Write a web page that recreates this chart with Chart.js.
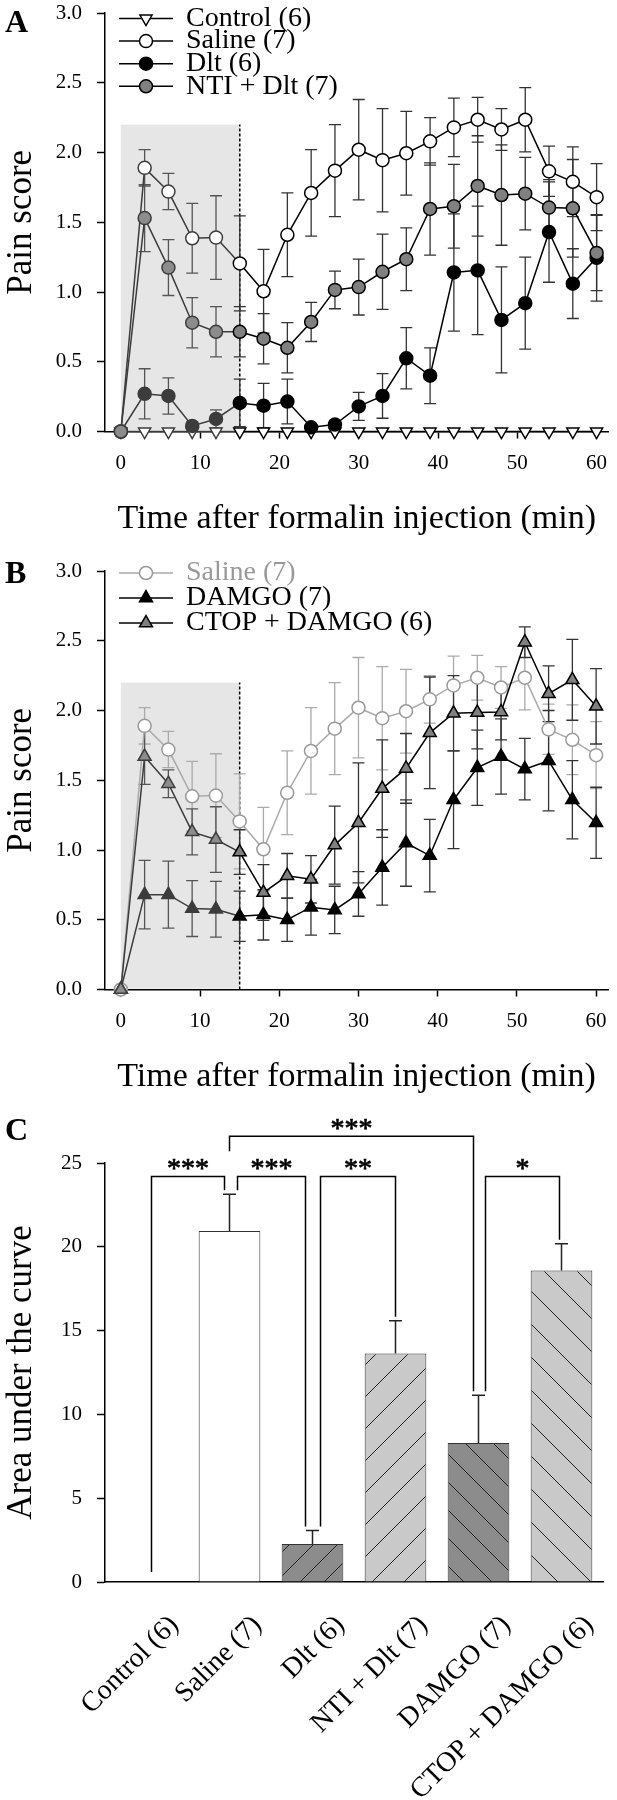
<!DOCTYPE html>
<html>
<head>
<meta charset="utf-8">
<script src="https://cdn.jsdelivr.net/npm/chart.js@4.4.1/dist/chart.umd.min.js"></script>
<style>
  html, body { margin: 0; padding: 0; background: #fff; }
  #page { position: relative; width: 617px; height: 1800px; overflow: hidden; }
  canvas { position: absolute; left: 0; }
  .panel { position: absolute; font-family: "Liberation Serif", "Times New Roman", serif;
           font-weight: bold; font-size: 32px; line-height: 32px; }
</style>
</head>
<body>
<div id="page">
  <canvas id="chartA" width="617" height="545" style="top:0px"></canvas>
  <canvas id="chartB" width="617" height="560" style="top:540px"></canvas>
  <canvas id="chartC" width="617" height="710" style="top:1090px"></canvas>
  <div class="panel" style="left:5px; top:5px">A</div>
  <div class="panel" style="left:5px; top:556px">B</div>
  <div class="panel" style="left:5px; top:1113px">C</div>
</div>
<script>
const FONT = '"Liberation Serif", "Times New Roman", Times, serif';
Chart.defaults.font.family = FONT;
Chart.defaults.color = '#000';

// time axis (min after formalin) and ticks
const timeMin = [0, 3, 6, 9, 12, 15, 18, 21, 24, 27, 30, 33, 36, 39, 42, 45, 48, 51, 54, 57, 60];
const timeTicks = [0, 10, 20, 30, 40, 50, 60];
const painTicks = [0, 0.5, 1, 1.5, 2, 2.5, 3];
const shadeEnd = 15;   // early phase, grey box
const shadeTop = 2.2;

// panel A
const controlMean = [0, 0, 0, 0, 0, 0, 0, 0, 0, 0, 0, 0, 0, 0, 0, 0, 0, 0, 0, 0, 0];
const controlSem  = [0, 0, 0, 0, 0, 0, 0, 0, 0, 0, 0, 0, 0, 0, 0, 0, 0, 0, 0, 0, 0];
const salineMean = [0, 1.89, 1.72, 1.385, 1.39, 1.205, 1.005, 1.41, 1.71, 1.87, 2.02, 1.945, 1.995, 2.08, 2.18, 2.235, 2.165, 2.235, 1.865, 1.79, 1.68];
const salineSem  = [0, 0.13, 0.13, 0.25, 0.30, 0.34, 0.30, 0.30, 0.31, 0.33, 0.36, 0.37, 0.30, 0.17, 0.21, 0.16, 0.15, 0.23, 0.18, 0.25, 0.24];
const dltMean = [0, 0.27, 0.255, 0.04, 0.09, 0.205, 0.185, 0.215, 0.03, 0.05, 0.18, 0.255, 0.525, 0.40, 1.14, 1.155, 0.80, 0.92, 1.43, 1.06, 1.245];
const dltSem  = [0, 0.18, 0.13, 0.03, 0.065, 0.17, 0.16, 0.16, 0.02, 0.03, 0.10, 0.16, 0.22, 0.20, 0.42, 0.46, 0.38, 0.33, 0.36, 0.25, 0.31];
const ntiDltMean = [0, 1.53, 1.175, 0.78, 0.715, 0.715, 0.665, 0.60, 0.785, 1.015, 1.035, 1.145, 1.235, 1.595, 1.615, 1.76, 1.695, 1.705, 1.605, 1.60, 1.28];
const ntiDltSem  = [0, 0.24, 0.20, 0.18, 0.18, 0.18, 0.18, 0.18, 0.14, 0.135, 0.20, 0.27, 0.225, 0.33, 0.30, 0.36, 0.36, 0.26, 0.20, 0.35, 0.27];

// panel B
const damgoMean = [0, 0.68, 0.68, 0.58, 0.575, 0.525, 0.535, 0.50, 0.59, 0.57, 0.685, 0.875, 1.05, 0.96, 1.36, 1.59, 1.67, 1.58, 1.64, 1.36, 1.195];
const damgoSem  = [0, 0.245, 0.24, 0.20, 0.20, 0.18, 0.18, 0.155, 0.20, 0.17, 0.16, 0.27, 0.31, 0.26, 0.35, 0.27, 0.27, 0.22, 0.36, 0.28, 0.255];
const ctopDamgoMean = [0, 1.67, 1.475, 1.13, 1.075, 0.985, 0.695, 0.815, 0.79, 1.035, 1.195, 1.44, 1.585, 1.84, 1.98, 1.985, 1.99, 2.49, 2.12, 2.22, 2.03];
const ctopDamgoSem  = [0, 0.20, 0.10, 0.165, 0.235, 0.16, 0.20, 0.16, 0.17, 0.28, 0.43, 0.35, 0.25, 0.40, 0.27, 0.26, 0.20, 0.11, 0.20, 0.29, 0.27];

// panel C
const aucGroups = ['Control (6)', 'Saline (7)', 'Dlt (6)', 'NTI + Dlt (7)', 'DAMGO (7)', 'CTOP + DAMGO (6)'];
const aucMean = [0, 20.94, 2.27, 13.64, 8.29, 18.58];
const aucSem  = [0, 2.19, 0.80, 1.95, 2.86, 1.60];
const aucTicks = [0, 5, 10, 15, 20, 25];
const sigPairs = [[0, 1], [1, 2], [2, 3], [1, 4], [4, 5]];
const sigMarks = ['***', '***', '**', '***', '*'];
const sigLevel = [24.2, 24.2, 24.2, 26.6, 24.2];

// inside the grey box the strokes look a bit lighter
const SOFT = { '#000': '#3c3c3c', '#333': '#555', '#808080': '#8c8c8c' };
const soft = c => SOFT[c] || c;
const inShade = i => timeMin[i] < shadeEnd;

function drawMarker(ctx, shape, rotation, r, x, y) {
  ctx.beginPath();
  if (shape === 'triangle') {
    let a = rotation * Math.PI / 180;
    for (let k = 0; k < 3; k++) {
      const px = x + Math.sin(a) * r, py = y - Math.cos(a) * r;
      if (k) ctx.lineTo(px, py); else ctx.moveTo(px, py);
      a += 2 * Math.PI / 3;
    }
    ctx.closePath();
  } else {
    ctx.arc(x, y, r, 0, 2 * Math.PI);
  }
  ctx.fill();
  ctx.stroke();
}

function series(label, mean, sem, st) {
  return {
    label: label,
    sem: sem,
    st: st,
    order: st.order,
    data: mean.map((v, i) => ({ x: timeMin[i], y: v })),
    borderColor: st.line,
    borderWidth: 1.5,
    segment: { borderColor: c => inShade(c.p0DataIndex) ? soft(st.line) : st.line },
    pointStyle: st.shape,
    pointRotation: st.rotation || 0,
    pointRadius: st.radius,
    pointHoverRadius: st.radius,
    pointBorderWidth: 1.5,
    pointBackgroundColor: c => inShade(c.dataIndex) ? soft(st.fill) : st.fill,
    pointBorderColor: c => inShade(c.dataIndex) ? soft(st.edge) : st.edge,
    tension: 0,
    clip: false
  };
}

// grey box, dashed 15 min line and the SEM bars, under the curves
const timeDecor = {
  id: 'timeDecor',
  beforeDatasetsDraw(chart) {
    const { ctx, scales: { x, y } } = chart;
    const x0 = x.getPixelForValue(0), x1 = x.getPixelForValue(shadeEnd);
    const yb = y.getPixelForValue(0), yt = y.getPixelForValue(shadeTop);
    ctx.save();
    ctx.fillStyle = '#e6e6e6';
    ctx.fillRect(x0, yt, x1 - x0, yb - yt - 1);
    ctx.strokeStyle = '#000';
    ctx.lineWidth = 1.5;
    ctx.setLineDash([3, 2]);
    ctx.beginPath();
    ctx.moveTo(x1, yb);
    ctx.lineTo(x1, yt);
    ctx.stroke();
    ctx.setLineDash([]);
    ctx.lineWidth = 1.3;
    chart.data.datasets.forEach(ds => {
      ds.sem.forEach((s, i) => {
        if (!s) return;
        const px = x.getPixelForValue(timeMin[i]);
        const m = ds.data[i].y;
        const pt = y.getPixelForValue(m + s), pb = y.getPixelForValue(m - s);
        ctx.strokeStyle = inShade(i) ? soft(ds.st.err) : ds.st.err;
        ctx.beginPath();
        ctx.moveTo(px, pt); ctx.lineTo(px, pb);
        ctx.moveTo(px - 6, pt); ctx.lineTo(px + 6, pt);
        ctx.moveTo(px - 6, pb); ctx.lineTo(px + 6, pb);
        ctx.stroke();
      });
    });
    ctx.restore();
  }
};

const refLegend = {
  id: 'refLegend',
  afterDraw(chart, args, opts) {
    const ctx = chart.ctx;
    ctx.save();
    ctx.font = opts.size + 'px ' + FONT;
    ctx.textBaseline = 'middle';
    ctx.textAlign = 'left';
    chart.data.datasets.forEach((ds, row) => {
      const st = ds.st;
      const y = opts.top + row * opts.gap;
      ctx.strokeStyle = st.line;
      ctx.lineWidth = 1.5;
      ctx.beginPath();
      ctx.moveTo(119, y); ctx.lineTo(173, y);
      ctx.stroke();
      ctx.fillStyle = st.fill;
      ctx.strokeStyle = st.edge;
      drawMarker(ctx, st.shape, st.rotation || 0, st.radius, 146, y);
      ctx.fillStyle = st.text || '#000';
      ctx.fillText(ds.label, 186, y);
    });
    ctx.restore();
  }
};

function timeChart(id, datasets, g) {
  return new Chart(document.getElementById(id), {
    type: 'line',
    data: { datasets: datasets },
    options: {
      responsive: false,
      animation: false,
      events: [],
      layout: { padding: { top: g.top, right: 0, left: 0, bottom: 0 } },
      plugins: {
        legend: { display: false },
        tooltip: { enabled: false },
        refLegend: { top: g.legendTop, gap: g.legendGap, size: 28 }
      },
      scales: {
        x: {
          type: 'linear', min: -2, max: 61.5,
          afterBuildTicks: s => { s.ticks = timeTicks.map(v => ({ value: v })); },
          afterFit: s => { s.height = g.xHeight; s.paddingLeft = 0; s.paddingRight = 0; },
          grid: { drawOnChartArea: false, tickLength: 7, tickWidth: 1.5, tickColor: '#000' },
          border: { color: '#000', width: 1.5 },
          ticks: { font: { size: 21 }, padding: 12, maxRotation: 0, color: '#000' },
          title: { display: true, text: 'Time after formalin injection (min)', color: '#000',
                   font: { size: 34, lineHeight: 1 }, padding: { top: 0, bottom: g.titlePad } }
        },
        y: {
          min: 0, max: 3,
          afterBuildTicks: s => { s.ticks = painTicks.map(v => ({ value: v })); },
          afterFit: s => { s.width = 105; s.paddingTop = 0; s.paddingBottom = 0; },
          grid: { drawOnChartArea: false, tickLength: 8, tickWidth: 1.5, tickColor: '#000' },
          border: { color: '#000', width: 1.5 },
          ticks: { font: { size: 21 }, padding: 15, color: '#000', callback: v => v.toFixed(1) },
          title: { display: true, text: 'Pain score', color: '#000',
                   font: { size: 35, lineHeight: 1 }, padding: { top: 4, bottom: 0 } }
        }
      }
    },
    plugins: [timeDecor, refLegend]
  });
}

timeChart('chartA', [
  series('Control (6)', controlMean, controlSem,
    { shape: 'triangle', rotation: 180, radius: 7, fill: '#fff', edge: '#000', line: '#000', err: '#333', order: 3 }),
  series('Saline (7)', salineMean, salineSem,
    { shape: 'circle', radius: 6.5, fill: '#fff', edge: '#000', line: '#000', err: '#333', order: 2 }),
  series('Dlt (6)', dltMean, dltSem,
    { shape: 'circle', radius: 6.5, fill: '#000', edge: '#000', line: '#000', err: '#333', order: 1 }),
  series('NTI + Dlt (7)', ntiDltMean, ntiDltSem,
    { shape: 'circle', radius: 6.5, fill: '#808080', edge: '#000', line: '#000', err: '#333', order: 0 })
], { top: 13, xHeight: 113.5, titlePad: 9, legendTop: 18.5, legendGap: 22.6 });

timeChart('chartB', [
  series('Saline (7)', salineMean, salineSem,
    { shape: 'circle', radius: 6.5, fill: '#fff', edge: '#999', line: '#aaa', err: '#aaa', text: '#999', order: 2 }),
  series('DAMGO (7)', damgoMean, damgoSem,
    { shape: 'triangle', rotation: 0, radius: 7.5, fill: '#000', edge: '#000', line: '#000', err: '#333', order: 1 }),
  series('CTOP + DAMGO (6)', ctopDamgoMean, ctopDamgoSem,
    { shape: 'triangle', rotation: 0, radius: 7.5, fill: '#808080', edge: '#000', line: '#000', err: '#333', order: 0 })
], { top: 31, xHeight: 110.5, titlePad: 6, legendTop: 33, legendGap: 25 });

// panel C: hatched bars
const ctxC = document.getElementById('chartC').getContext('2d');
function hatch(bg, dir, gap) {
  const c = document.createElement('canvas');
  c.width = gap; c.height = gap;
  const g = c.getContext('2d');
  g.fillStyle = bg;
  g.fillRect(0, 0, gap, gap);
  g.strokeStyle = '#222';
  g.lineWidth = 1;
  g.beginPath();
  if (dir === '/') {
    g.moveTo(-1, gap + 1); g.lineTo(gap + 1, -1);
    g.moveTo(-2, 2); g.lineTo(2, -2);
    g.moveTo(gap - 2, gap + 2); g.lineTo(gap + 2, gap - 2);
  } else {
    g.moveTo(-1, -1); g.lineTo(gap + 1, gap + 1);
    g.moveTo(gap - 2, -2); g.lineTo(gap + 2, 2);
    g.moveTo(-2, gap - 2); g.lineTo(2, gap + 2);
  }
  g.stroke();
  return ctxC.createPattern(c, 'repeat');
}
const DARK = '#8c8c8c', LIGHT = '#c9c9c9';
const barFills = ['#fff', '#fff', hatch(DARK, '/', 24), hatch(LIGHT, '/', 32),
                  hatch(DARK, '\\', 28), hatch(LIGHT, '\\', 33)];

const barDecor = {
  id: 'barDecor',
  afterDatasetsDraw(chart, args, opts) {
    const { ctx, scales: { x, y } } = chart;
    const meta = chart.getDatasetMeta(0);
    ctx.save();
    ctx.strokeStyle = '#222';
    ctx.lineWidth = 1.5;
    const capTop = [];
    meta.data.forEach((bar, i) => {
      const s = aucSem[i];
      capTop[i] = y.getPixelForValue(aucMean[i] + s);
      if (!s) return;
      ctx.beginPath();
      ctx.moveTo(bar.x, bar.y); ctx.lineTo(bar.x, capTop[i]);
      ctx.moveTo(bar.x - 6.5, capTop[i]); ctx.lineTo(bar.x + 6.5, capTop[i]);
      ctx.stroke();
    });
    // significance brackets
    ctx.fillStyle = '#000';
    ctx.font = '28px ' + FONT;
    ctx.textAlign = 'center';
    ctx.textBaseline = 'alphabetic';
    sigPairs.forEach((p, k) => {
      const [a, b] = p;
      const xa = x.getPixelForValue(a) + opts.dx[k][0];
      const xb = x.getPixelForValue(b) + opts.dx[k][1];
      const yl = y.getPixelForValue(sigLevel[k]);
      const leg = idx => opts.legLen[k][idx] != null ? yl + opts.legLen[k][idx]
                        : capTop[p[idx]] - (aucMean[p[idx]] ? 4 : 10);
      ctx.strokeStyle = '#000';
      ctx.lineWidth = 1.5;
      ctx.beginPath();
      ctx.moveTo(xa, leg(0)); ctx.lineTo(xa, yl); ctx.lineTo(xb, yl); ctx.lineTo(xb, leg(1));
      ctx.stroke();
      ctx.lineWidth = 0.7;
      ctx.fillText(sigMarks[k], (xa + xb) / 2, yl + 1);
      ctx.strokeText(sigMarks[k], (xa + xb) / 2, yl + 1);
    });
    ctx.restore();
  }
};

new Chart(ctxC, {
  type: 'bar',
  data: {
    labels: aucGroups,
    datasets: [{
      data: aucMean,
      backgroundColor: barFills,
      borderColor: '#333',
      borderWidth: 1,
      categoryPercentage: 1,
      barPercentage: 0.743
    }]
  },
  options: {
    responsive: false,
    animation: false,
    events: [],
    layout: { padding: { top: 73, right: 14, left: 0, bottom: 0 } },
    plugins: {
      legend: { display: false },
      tooltip: { enabled: false },
      barDecor: {
        dx: [[5, -5], [8, -7], [8, 0], [0, -5], [7, -2]],
        legLen: [[null, null], [null, null], [null, null], [15, null], [null, null]]
      }
    },
    scales: {
      x: {
        grid: { display: false },
        border: { color: '#000', width: 1.5 },
        ticks: { font: { size: 28 }, color: '#000', minRotation: 45, maxRotation: 45,
                 autoSkip: false, padding: 19, labelOffset: 28 },
        afterFit: s => { s.height = 218; s.paddingLeft = 0; s.paddingRight = 0; }
      },
      y: {
        min: 0, max: 25,
        afterBuildTicks: s => { s.ticks = aucTicks.map(v => ({ value: v })); },
        afterFit: s => { s.width = 105; s.paddingTop = 0; s.paddingBottom = 0; },
        grid: { drawOnChartArea: false, tickLength: 8, tickWidth: 1.5, tickColor: '#000' },
        border: { color: '#000', width: 1.5 },
        ticks: { font: { size: 21 }, padding: 15, color: '#000' },
        title: { display: true, text: 'Area under the curve', color: '#000',
                 font: { size: 35, lineHeight: 1 }, padding: { top: 4, bottom: 0 } }
      }
    }
  },
  plugins: [barDecor]
});
</script>
</body>
</html>
